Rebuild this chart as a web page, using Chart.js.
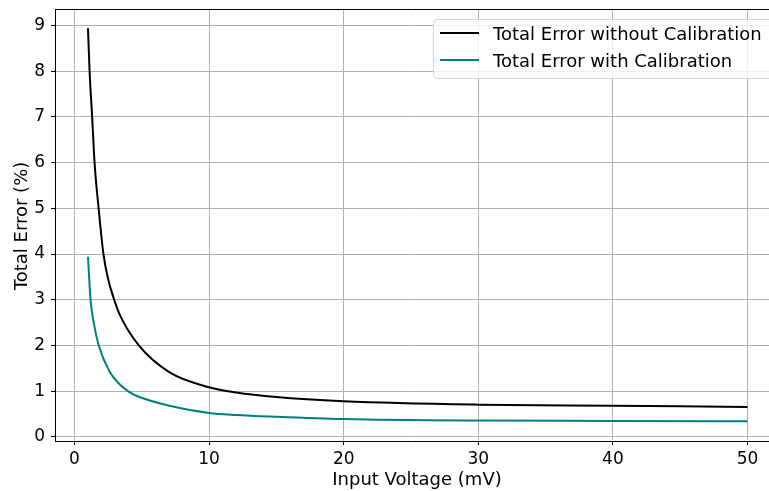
<!DOCTYPE html>
<html>
<head>
<meta charset="utf-8">
<script src="https://cdn.jsdelivr.net/npm/chart.js@4.4.1/dist/chart.umd.min.js"></script>
<style>
  html, body { margin: 0; padding: 0; background: #fff; }
  #wrap { width: 769px; height: 491px; position: relative; }
</style>
</head>
<body>
<div id="wrap"><canvas id="chart"></canvas></div>
<script>
// values
const voltageWithout = [1, 1.12, 1.31, 1.49, 1.79, 2.15, 2.5, 2.95, 3.35, 4.78, 7.07, 10, 12, 15, 20, 30, 40, 50];
const errorWithout = [8.94, 8.0, 7.0, 6.0, 5.0, 4.0, 3.45, 3.0, 2.68, 2.0, 1.41, 1.085, 0.97, 0.87, 0.78, 0.705, 0.68, 0.655];
const voltageWith = [1, 1.19, 1.45, 1.8, 2.6, 3.35, 3.97, 4.59, 7.07, 10, 12, 15, 20, 30, 40, 50];
const errorWith = [3.94, 3.0, 2.46, 2.0, 1.43, 1.15, 1.0, 0.9, 0.68, 0.525, 0.48, 0.44, 0.39, 0.357, 0.35, 0.34];
const seriesLabels = ['Total Error without Calibration', 'Total Error with Calibration'];
const seriesColors = ['#000000', '#008080'];
const xTitle = 'Input Voltage (mV)';
const yTitle = 'Total Error (%)';

const FONT = "'DejaVu Sans', sans-serif";
const TEXT_SIZE = 18;

function toPoints(xs, ys) {
  return xs.map((x, i) => ({ x, y: ys[i] }));
}

const framePlugin = {
  id: 'frame',
  afterDraw(chart) {
    const { ctx, chartArea } = chart;
    ctx.save();
    // top spine
    ctx.strokeStyle = '#000';
    ctx.lineWidth = 1;
    ctx.beginPath();
    ctx.moveTo(chartArea.left, Math.round(chartArea.top) + 0.5);
    ctx.lineTo(chartArea.right + 2, Math.round(chartArea.top) + 0.5);
    ctx.stroke();

    // axis titles
    ctx.fillStyle = '#000';
    ctx.font = TEXT_SIZE + 'px ' + FONT;
    ctx.textAlign = 'center';
    ctx.textBaseline = 'alphabetic';
    ctx.fillText(xTitle, 417, 485);
    ctx.translate(27, 226);
    ctx.rotate(-Math.PI / 2);
    ctx.fillText(yTitle, 0, 0);
    ctx.restore();

    // legend
    ctx.save();
    const bx = 433.5, by = 19.5, bw = 345, bh = 59, r = 4;
    ctx.beginPath();
    ctx.moveTo(bx + r, by);
    ctx.lineTo(bx + bw - r, by);
    ctx.arcTo(bx + bw, by, bx + bw, by + r, r);
    ctx.lineTo(bx + bw, by + bh - r);
    ctx.arcTo(bx + bw, by + bh, bx + bw - r, by + bh, r);
    ctx.lineTo(bx + r, by + bh);
    ctx.arcTo(bx, by + bh, bx, by + bh - r, r);
    ctx.lineTo(bx, by + r);
    ctx.arcTo(bx, by, bx + r, by, r);
    ctx.closePath();
    ctx.fillStyle = 'rgba(255,255,255,0.8)';
    ctx.fill();
    ctx.strokeStyle = '#d6d6d6';
    ctx.lineWidth = 1;
    ctx.stroke();

    ctx.font = TEXT_SIZE + 'px ' + FONT;
    ctx.textAlign = 'left';
    ctx.textBaseline = 'alphabetic';
    seriesLabels.forEach((label, i) => {
      const y = 33 + i * 27;
      ctx.strokeStyle = seriesColors[i];
      ctx.lineWidth = 2;
      ctx.beginPath();
      ctx.moveTo(440, y);
      ctx.lineTo(479, y);
      ctx.stroke();
      ctx.fillStyle = '#000';
      ctx.fillText(label, 493, y + 6.5);
    });
    ctx.restore();
  },
};

new Chart(document.getElementById('chart'), {
  type: 'scatter',
  data: {
    datasets: [
      {
        label: seriesLabels[0],
        data: toPoints(voltageWithout, errorWithout),
        showLine: true,
        borderColor: seriesColors[0],
        borderWidth: 2,
        pointRadius: 0,
        cubicInterpolationMode: 'monotone',
      },
      {
        label: seriesLabels[1],
        data: toPoints(voltageWith, errorWith),
        showLine: true,
        borderColor: seriesColors[1],
        borderWidth: 2,
        pointRadius: 0,
        cubicInterpolationMode: 'monotone',
      },
    ],
  },
  options: {
    responsive: true,
    maintainAspectRatio: false,
    animation: false,
    layout: { padding: { top: 9, right: 0, left: 0, bottom: 0 } },
    plugins: {
      legend: { display: false },
      tooltip: { enabled: false },
    },
    scales: {
      x: {
        type: 'linear',
        min: -1.45,
        max: 51.6,
        afterFit(scale) {
          scale.height = 50;
          scale.paddingLeft = 0;
          scale.paddingRight = 0;
        },
        ticks: {
          stepSize: 10,
          includeBounds: false,
          color: '#000',
          font: { family: FONT, size: 17 },
          padding: 4,
          maxRotation: 0,
        },
        grid: {
          color: '#b0b0b0',
          lineWidth: 1,
          tickColor: '#000',
          tickLength: 4,
          drawTicks: true,
        },
        border: { color: '#000', width: 1 },
      },
      y: {
        type: 'linear',
        min: -0.09,
        max: 9.36,
        afterFit(scale) {
          scale.width = 55;
          scale.paddingTop = 0;
          scale.paddingBottom = 0;
        },
        ticks: {
          stepSize: 1,
          includeBounds: false,
          color: '#000',
          font: { family: FONT, size: 17 },
          padding: 6,
        },
        grid: {
          color: '#b0b0b0',
          lineWidth: 1,
          tickColor: '#000',
          tickLength: 4,
          drawTicks: true,
        },
        border: { color: '#000', width: 1 },
      },
    },
  },
  plugins: [framePlugin],
});
</script>
</body>
</html>
